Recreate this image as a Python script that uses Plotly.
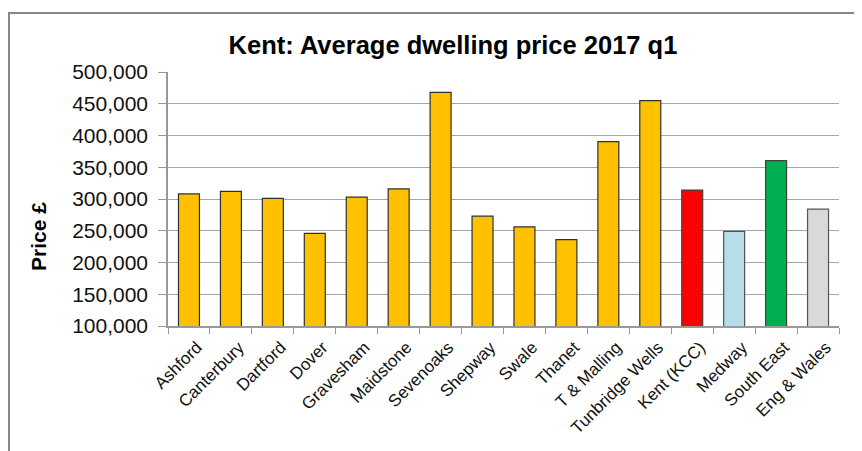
import plotly.graph_objects as go

categories = ["Ashford", "Canterbury", "Dartford", "Dover", "Gravesham", "Maidstone",
              "Sevenoaks", "Shepway", "Swale", "Thanet", "T & Malling", "Tunbridge Wells",
              "Kent (KCC)", "Medway", "South East", "Eng & Wales"]
prices = [308000, 312000, 301000, 246000, 303000, 316000,
          468000, 273000, 256000, 236000, 390500, 455000,
          314000, 249000, 360500, 284000]
bar_colors = ["#FFC000"] * 12 + ["#FF0000", "#B7DEE8", "#00B050", "#D9D9D9"]
line_colors = ["#303030"] * 12 + ["#404040", "#505050", "#404040", "#555555"]
y_ticks = [100000, 150000, 200000, 250000, 300000, 350000, 400000, 450000, 500000]

# page body has an 8px margin, so the figure is drawn at (8, 8)
W, H = 854, 443
L, R, T, B = 160, 23, 64, 125
pw, ph = W - L - R, H - T - B

def px_x(p):
    return (p - L) / pw

def px_y(p):
    return (H - B - p) / ph

fig = go.Figure(go.Bar(
    x=categories, y=prices,
    marker=dict(color=bar_colors, line=dict(color=line_colors, width=1.2)),
    width=0.5,
))

font = "Liberation Sans, Arial, sans-serif"
fig.update_layout(
    width=W, height=H,
    margin=dict(l=L, r=R, t=T, b=B, autoexpand=False),
    paper_bgcolor="white", plot_bgcolor="white",
    font=dict(family=font, color="#111111"),
    showlegend=False,
    title=dict(text="<b>Kent: Average dwelling price 2017 q1</b>",
               x=445 / W, xanchor="center", y=1 - 37 / H, yanchor="middle",
               font=dict(size=25.5, family=font, color="#000000")),
    xaxis=dict(
        tickangle=-45, tickfont=dict(size=17, family=font, color="#111111"),
        ticks="outside", tickson="boundaries", ticklen=6, tickcolor="#999999",
        ticklabelshift=8, ticklabelstandoff=3,
        showline=True, linecolor="#999999", linewidth=1.5,
        showgrid=False, automargin=False,
    ),
    yaxis=dict(
        range=[100000, 500000], tickvals=y_ticks, tickformat=",d",
        tickfont=dict(size=21, family=font, color="#111111"),
        ticks="outside", ticklen=8, tickcolor="#999999",
        ticklabelstandoff=6,
        showline=True, linecolor="#999999", linewidth=1.5,
        showgrid=True, gridcolor="#A6A6A6", gridwidth=1.3,
        zeroline=False, automargin=False,
    ),
    annotations=[dict(
        text="<b>Price £</b>", textangle=-90, showarrow=False,
        xref="paper", yref="paper", x=px_x(30), y=px_y(229),
        xanchor="center", yanchor="middle",
        font=dict(size=21, family=font, color="#000000"),
    )],
    shapes=[dict(
        type="rect", xref="paper", yref="paper",
        x0=px_x(1), x1=px_x(880), y0=px_y(470), y1=px_y(5),
        line=dict(color="#888888", width=2), fillcolor="rgba(0,0,0,0)",
        layer="below",
    )],
)

fig.write_html("out.html")
